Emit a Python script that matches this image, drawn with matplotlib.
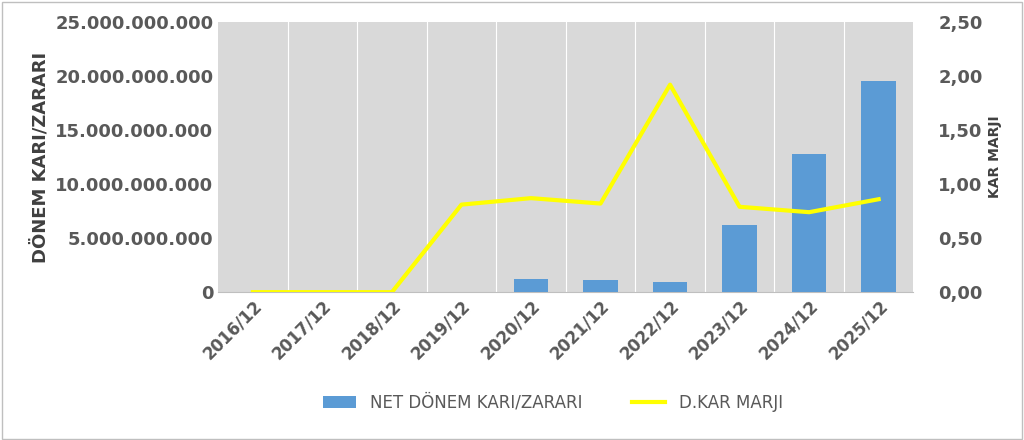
import matplotlib
matplotlib.use("Agg")
import matplotlib.pyplot as plt
import numpy as np
from matplotlib.ticker import FuncFormatter

years = ["2016/12","2017/12","2018/12","2019/12","2020/12","2021/12","2022/12","2023/12","2024/12","2025/12"]
net_kar = [0, 0, 0, 0, 1.2e9, 1.1e9, 0.9e9, 6.2e9, 12.8e9, 19.5e9]
kar_marji = [0.0, 0.0, 0.0, 0.81, 0.87, 0.82, 1.92, 0.79, 0.74, 0.86]

plt.rcParams['font.family'] = ['DejaVu Sans']
fig = plt.figure(figsize=(10.24, 4.4), dpi=100)
fig.patches.append(matplotlib.patches.Rectangle((0.002,0.002),0.996,0.994,transform=fig.transFigure,fill=False,edgecolor='#bfbfbf',lw=1))
ax = fig.add_axes([0.213, 0.336, 0.679, 0.614])
ax.set_facecolor('#d9d9d9')
x = np.arange(len(years))
ax.bar(x, net_kar, width=0.5, color='#5b9bd5', label='NET DÖNEM KARI/ZARARI', zorder=3)
ax.set_xlim(-0.5, len(years)-0.5)
ax.set_ylim(0, 25e9)
ax.set_yticks(np.arange(0, 25e9+1, 5e9))
ax.yaxis.set_major_formatter(FuncFormatter(lambda v, p: f"{int(v):,}".replace(",", ".")))
for xv in np.arange(0.5, len(years)-0.5, 1):
    ax.axvline(xv, color='white', lw=0.8, zorder=1)
ax.set_xticks(x)
ax.set_xticklabels(years, rotation=45, ha='right', rotation_mode='anchor', fontsize=12, fontweight='bold', color='#595959')
ax.tick_params(axis='y', labelsize=13, colors='#595959', length=0)
for t in ax.get_yticklabels(): t.set_fontweight('bold')
ax.tick_params(axis='x', length=0)
ax.set_ylabel('DÖNEM KARI/ZARARI', fontsize=13, fontweight='bold', color='#404040')
for s in ax.spines.values(): s.set_visible(False)
ax.spines['bottom'].set_visible(True); ax.spines['bottom'].set_color('#bfbfbf')

ax2 = ax.twinx()
ax2.plot(x, kar_marji, color='#ffff00', lw=3, label='D.KAR MARJI', zorder=4)
ax2.set_ylim(0, 2.5)
ax2.set_yticks(np.arange(0, 2.51, 0.5))
ax2.yaxis.set_major_formatter(FuncFormatter(lambda v, p: f"{v:.2f}".replace(".", ",")))
ax2.tick_params(axis='y', labelsize=13, colors='#595959', length=0, pad=18)
for t in ax2.get_yticklabels(): t.set_fontweight('bold')
ax2.set_ylabel('KAR MARJI', fontsize=10, fontweight='bold', color='#404040')
for s in ax2.spines.values(): s.set_visible(False)

h1, l1 = ax.get_legend_handles_labels()
h2, l2 = ax2.get_legend_handles_labels()
fig.legend(h1+h2, l1+l2, loc='center', bbox_to_anchor=(0.54, 0.085), ncol=2, frameon=False,
           prop={'size': 12}, labelcolor='#595959', columnspacing=3)
fig.savefig('out.png', dpi=100)
